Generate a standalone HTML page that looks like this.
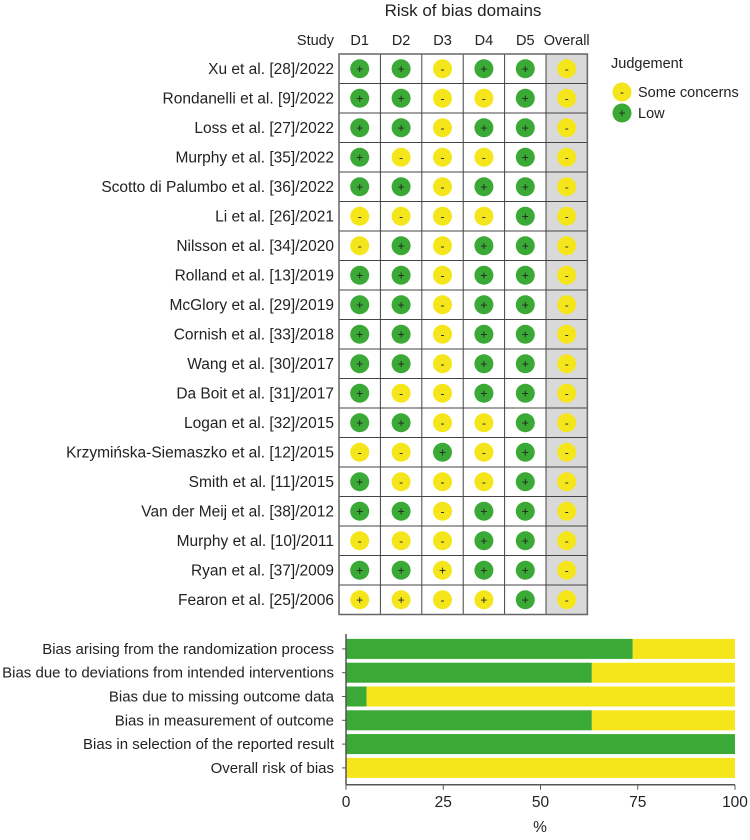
<!DOCTYPE html>
<html><head><meta charset="utf-8"><style>
body{margin:0;background:#fff;}
svg text{font-family:"Liberation Sans",sans-serif;fill:#222;}
</style></head><body>
<svg width="750" height="835" xmlns="http://www.w3.org/2000/svg">
<g id="grid"></g>
<g id="bars"></g>
</svg>
<script>
const studies=["Xu et al. [28]/2022","Rondanelli et al. [9]/2022","Loss et al. [27]/2022","Murphy et al. [35]/2022","Scotto di Palumbo et al. [36]/2022","Li et al. [26]/2021","Nilsson et al. [34]/2020","Rolland et al. [13]/2019","McGlory et al. [29]/2019","Cornish et al. [33]/2018","Wang et al. [30]/2017","Da Boit et al. [31]/2017","Logan et al. [32]/2015","Krzymińska-Siemaszko et al. [12]/2015","Smith et al. [11]/2015","Van der Meij et al. [38]/2012","Murphy et al. [10]/2011","Ryan et al. [37]/2009","Fearon et al. [25]/2006"];
const domains=["D1","D2","D3","D4","D5","Overall"];
// L = low (green +), S = some concerns (yellow -), Y = yellow with +
const judgements=["LLSLLS","LLSSLS","LLSLLS","LSSSLS","LLSLLS","SSSSLS","SLSLLS","LLSLLS","LLSLLS","LLSLLS","LLSLLS","LSSLLS","LLSSLS","SSLSLS","LSSSLS","LLSLLS","SSSLLS","LLYLLS","YYSYLS"];
const barLabels=["Bias arising from the randomization process","Bias due to deviations from intended interventions","Bias due to missing outcome data","Bias in measurement of outcome","Bias in selection of the reported result","Overall risk of bias"];
const lowPct=[73.7,63.2,5.3,63.2,100,0];
const xTicks=[0,25,50,75,100];
</script>
<script>
const NS="http://www.w3.org/2000/svg";
const GREEN="#3aa935",YEL="#f5e61c";
function mk(t,a,p){const e=document.createElementNS(NS,t);for(const k in a)e.setAttribute(k,a[k]);p.appendChild(e);return e;}
const g=document.getElementById('grid');
const gx0=339,cw=41.4,gy0=54,rh=29.5;
const colX=i=>gx0+cw*i, rowY=i=>gy0+rh*i;
let t=mk('text',{x:463,y:16,'text-anchor':'middle','font-size':17},g);t.textContent="Risk of bias domains";

t=mk('text',{x:334,y:45,'text-anchor':'end','font-size':14.5},g);t.textContent="Study";

let r=mk('rect',{x:colX(5),y:gy0,width:cw,height:rh*studies.length,fill:'#d9d9d9'},g);

domains.forEach((d,i)=>{const e=mk('text',{x:colX(i)+cw/2,y:45,'text-anchor':'middle','font-size':14.5},g);e.textContent=d;
});
studies.forEach((s,j)=>{
 const e=mk('text',{x:334,y:rowY(j)+rh/2+5,'text-anchor':'end','font-size':15.5},g);e.textContent=s;
 
 for(let i=0;i<6;i++){
  const j2=judgements[j][i];const cx=colX(i)+cw/2,cy=rowY(j)+rh/2;
  const c=mk('circle',{cx:cx,cy:cy,r:9.5,fill:j2==='L'?GREEN:YEL},g);
  
  const sy=mk('text',{x:cx,y:cy+4,'text-anchor':'middle','font-size':12},g);sy.textContent=j2==='S'?'-':'+';
  
 }
});
for(let i=0;i<=6;i++)mk('line',{x1:colX(i),x2:colX(i),y1:gy0,y2:rowY(studies.length),stroke:'#444','stroke-width':1},g);
for(let j=0;j<=studies.length;j++)mk('line',{x1:gx0,x2:colX(6),y1:rowY(j),y2:rowY(j),stroke:'#444','stroke-width':1},g);
r=mk('rect',{x:gx0,y:gy0,width:cw*6,height:rh*studies.length,fill:'none',stroke:'#666','stroke-width':1.5},g);

t=mk('text',{x:611,y:68,'font-size':14.5},g);t.textContent="Judgement";
[["Some concerns",YEL,"-"],["Low",GREEN,"+"]].forEach((L,k)=>{
 const y=92+k*21;
 const c=mk('circle',{cx:622,cy:y,r:9.5,fill:L[1]},g);
 const s=mk('text',{x:622,y:y+4,'text-anchor':'middle','font-size':12},g);s.textContent=L[2];
 const e=mk('text',{x:638,y:y+5,'font-size':14.5},g);e.textContent=L[0];
 
});
const b=document.getElementById('bars');
const x0=346,x1=735,xs=v=>x0+(x1-x0)*v/100;
const by0=637,bstep=23.8,bh=20;
barLabels.forEach((l,i)=>{
 const cy=by0+bstep*i+bstep/2;
 const y=cy-bh/2;
 let a=mk('rect',{x:xs(0),y:y,width:xs(lowPct[i])-xs(0),height:bh,fill:GREEN},b);
 
 a=mk('rect',{x:xs(lowPct[i]),y:y,width:xs(100)-xs(lowPct[i]),height:bh,fill:YEL},b);
 
 mk('line',{x1:x0-4,x2:x0,y1:cy,y2:cy,stroke:'#555'},b);
 const e=mk('text',{x:x0-12,y:cy+5,'text-anchor':'end','font-size':15},b);e.textContent=l;
 
});
const axY=by0+bstep*6+5;
mk('line',{x1:x0,x2:x0,y1:by0-3,y2:axY,stroke:'#555','stroke-width':1.5},b);
mk('line',{x1:x0,x2:x1,y1:axY,y2:axY,stroke:'#555','stroke-width':1.5},b);
xTicks.forEach(v=>{mk('line',{x1:xs(v),x2:xs(v),y1:axY,y2:axY+5,stroke:'#555'},b);
 const e=mk('text',{x:xs(v),y:axY+22,'text-anchor':'middle','font-size':15.5},b);e.textContent=v;
 });
t=mk('text',{x:540,y:832,'text-anchor':'middle','font-size':15.5},b);t.textContent="%";

</script>
</body></html>
